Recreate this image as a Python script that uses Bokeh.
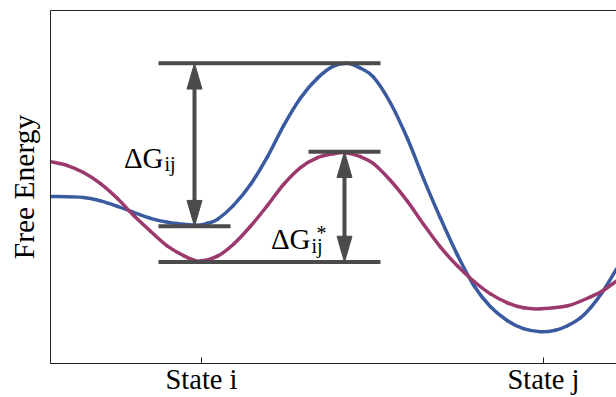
from bokeh.plotting import figure
from bokeh.models import FixedTicker, LinearAxis, Label, Range1d
from bokeh.embed import file_html
from bokeh.resources import INLINE

# Reaction coordinate (arbitrary units) and free energy (arbitrary units)
coord_blue = [50, 83, 100, 117, 133, 150, 167, 183, 197, 207, 217, 233, 250, 267, 283, 300, 317,
              333, 347, 360, 373, 390, 407, 423, 440, 457, 473, 490, 507, 523, 540, 555, 567,
              580, 590, 602, 616]
energy_blue = [168, 167, 163.5, 158, 152, 146, 142, 140, 139, 141, 145, 159, 180, 208, 239, 267, 287,
               299, 302, 297, 288, 262, 226, 186, 146, 109, 79, 57, 43, 35, 32, 33.5, 38,
               46, 56, 72, 95]

coord_red = [50, 67, 83, 100, 117, 133, 150, 167, 183, 192, 200, 217, 233, 250, 267, 283, 300, 317,
             333, 345, 360, 373, 390, 407, 423, 440, 457, 473, 490, 507, 523, 540, 567, 590, 602, 616]
energy_red = [203, 199, 192, 181, 166, 149, 133, 118, 108.5, 104.5, 103, 108, 120, 138, 159, 180, 197, 207,
              211, 212, 208, 201, 184, 163, 140, 117, 98, 83, 70, 61, 56, 55, 58, 67, 73, 83]

state_ticks = [201, 543]
state_labels = ["State i", "State j"]

# Reference energy levels (horizontal bars)
level_y = [302, 138, 213, 102]
level_x0 = [158, 158, 308, 158]
level_x1 = [380, 230, 380, 380]

# Double arrows between levels
arrow_x = [194, 344]
arrow_lo = [138, 102]
arrow_hi = [302, 213]

BLUE = "#3a5ba0"
RED = "#9c3a6e"
GRAY = "#4b4b4b"
SERIF = "Liberation Serif"

p = figure(width=616, height=397, output_backend="svg", toolbar_location=None,
           x_axis_type=None, y_axis_type=None,
           x_range=Range1d(50, 616), y_range=Range1d(0, 355),
           min_border_left=50, min_border_right=0, min_border_top=10, min_border_bottom=32)
p.outline_line_color = None
p.background_fill_color = "white"
p.border_fill_color = "white"

xaxis = LinearAxis(ticker=FixedTicker(ticks=state_ticks),
                   major_label_overrides={t: s for t, s in zip(state_ticks, state_labels)})
xaxis.major_tick_in = 6
xaxis.major_tick_out = 0
xaxis.minor_tick_line_color = None
xaxis.major_label_standoff = 0
xaxis.major_label_text_font = SERIF
xaxis.major_label_text_font_size = "28.5px"
xaxis.major_label_text_color = "black"
xaxis.axis_line_color = "#222222"
xaxis.major_tick_line_color = "#222222"
p.add_layout(xaxis, "below")

yaxis = LinearAxis(ticker=FixedTicker(ticks=[]), axis_label="Free Energy")
yaxis.major_tick_in = 0
yaxis.major_tick_out = 0
yaxis.minor_tick_line_color = None
yaxis.axis_label_standoff = 11
yaxis.axis_label_text_font = SERIF
yaxis.axis_label_text_font_size = "29.5px"
yaxis.axis_label_text_font_style = "normal"
yaxis.axis_label_text_color = "black"
yaxis.axis_line_color = "#222222"
p.add_layout(yaxis, "left")

topaxis = LinearAxis(ticker=FixedTicker(ticks=[]))
topaxis.major_tick_in = 0
topaxis.major_tick_out = 0
topaxis.minor_tick_line_color = None
topaxis.major_label_standoff = 0
topaxis.axis_line_color = "#222222"
p.add_layout(topaxis, "above")


def smooth_curve(xs, ys, color):
    """Draw a smooth curve through the read points (Catmull-Rom as cubic Beziers)."""
    n = len(xs)
    x0, y0, x1, y1, cx0, cy0, cx1, cy1 = [], [], [], [], [], [], [], []
    for i in range(n - 1):
        xp, yp = (xs[i - 1], ys[i - 1]) if i > 0 else (xs[i], ys[i])
        xn, yn = (xs[i + 2], ys[i + 2]) if i + 2 < n else (xs[i + 1], ys[i + 1])
        x0.append(xs[i]); y0.append(ys[i])
        x1.append(xs[i + 1]); y1.append(ys[i + 1])
        cx0.append(xs[i] + (xs[i + 1] - xp) / 6); cy0.append(ys[i] + (ys[i + 1] - yp) / 6)
        cx1.append(xs[i + 1] - (xn - xs[i]) / 6); cy1.append(ys[i + 1] - (yn - ys[i]) / 6)
    p.bezier(x0=x0, y0=y0, x1=x1, y1=y1, cx0=cx0, cy0=cy0, cx1=cx1, cy1=cy1,
             line_color=color, line_width=3.5, line_cap="round")


smooth_curve(coord_blue, energy_blue, BLUE)
smooth_curve(coord_red, energy_red, RED)

# level bars
p.segment(x0=level_x0, y0=level_y, x1=level_x1, y1=level_y, line_color=GRAY, line_width=4)

# arrows: shafts + heads (head size in data units == pixels here)
HEAD_LEN = 26
HEAD_HALF = 7.5
p.segment(x0=arrow_x, y0=[lo + HEAD_LEN - 2 for lo in arrow_lo], x1=arrow_x,
          y1=[hi - HEAD_LEN + 2 for hi in arrow_hi], line_color=GRAY, line_width=4)
hx, hy = [], []
for x, lo, hi in zip(arrow_x, arrow_lo, arrow_hi):
    hx.append([x - HEAD_HALF, x, x + HEAD_HALF])
    hy.append([hi - HEAD_LEN, hi, hi - HEAD_LEN])
    hx.append([x - HEAD_HALF, x, x + HEAD_HALF])
    hy.append([lo + HEAD_LEN, lo, lo + HEAD_LEN])
p.patches(hx, hy, fill_color=GRAY, line_color=GRAY, line_width=1)


# labels
def lab(x, y, text, size, align="left"):
    p.add_layout(Label(x=x, y=y, text=text, text_font=SERIF, text_font_size=size,
                       text_align=align, text_baseline="alphabetic", text_color="black"))


lab(arrow_x[0] - 31, 207, "ΔG", "29px", "right")
lab(arrow_x[0] - 30, 201, "ij", "20px")
lab(arrow_x[1] - 34, 125, "ΔG", "29px", "right")
lab(arrow_x[1] - 33, 118, "ij", "20px")
lab(arrow_x[1] - 28, 131, "*", "20px")

open("out.html", "w").write(file_html(p, INLINE))
